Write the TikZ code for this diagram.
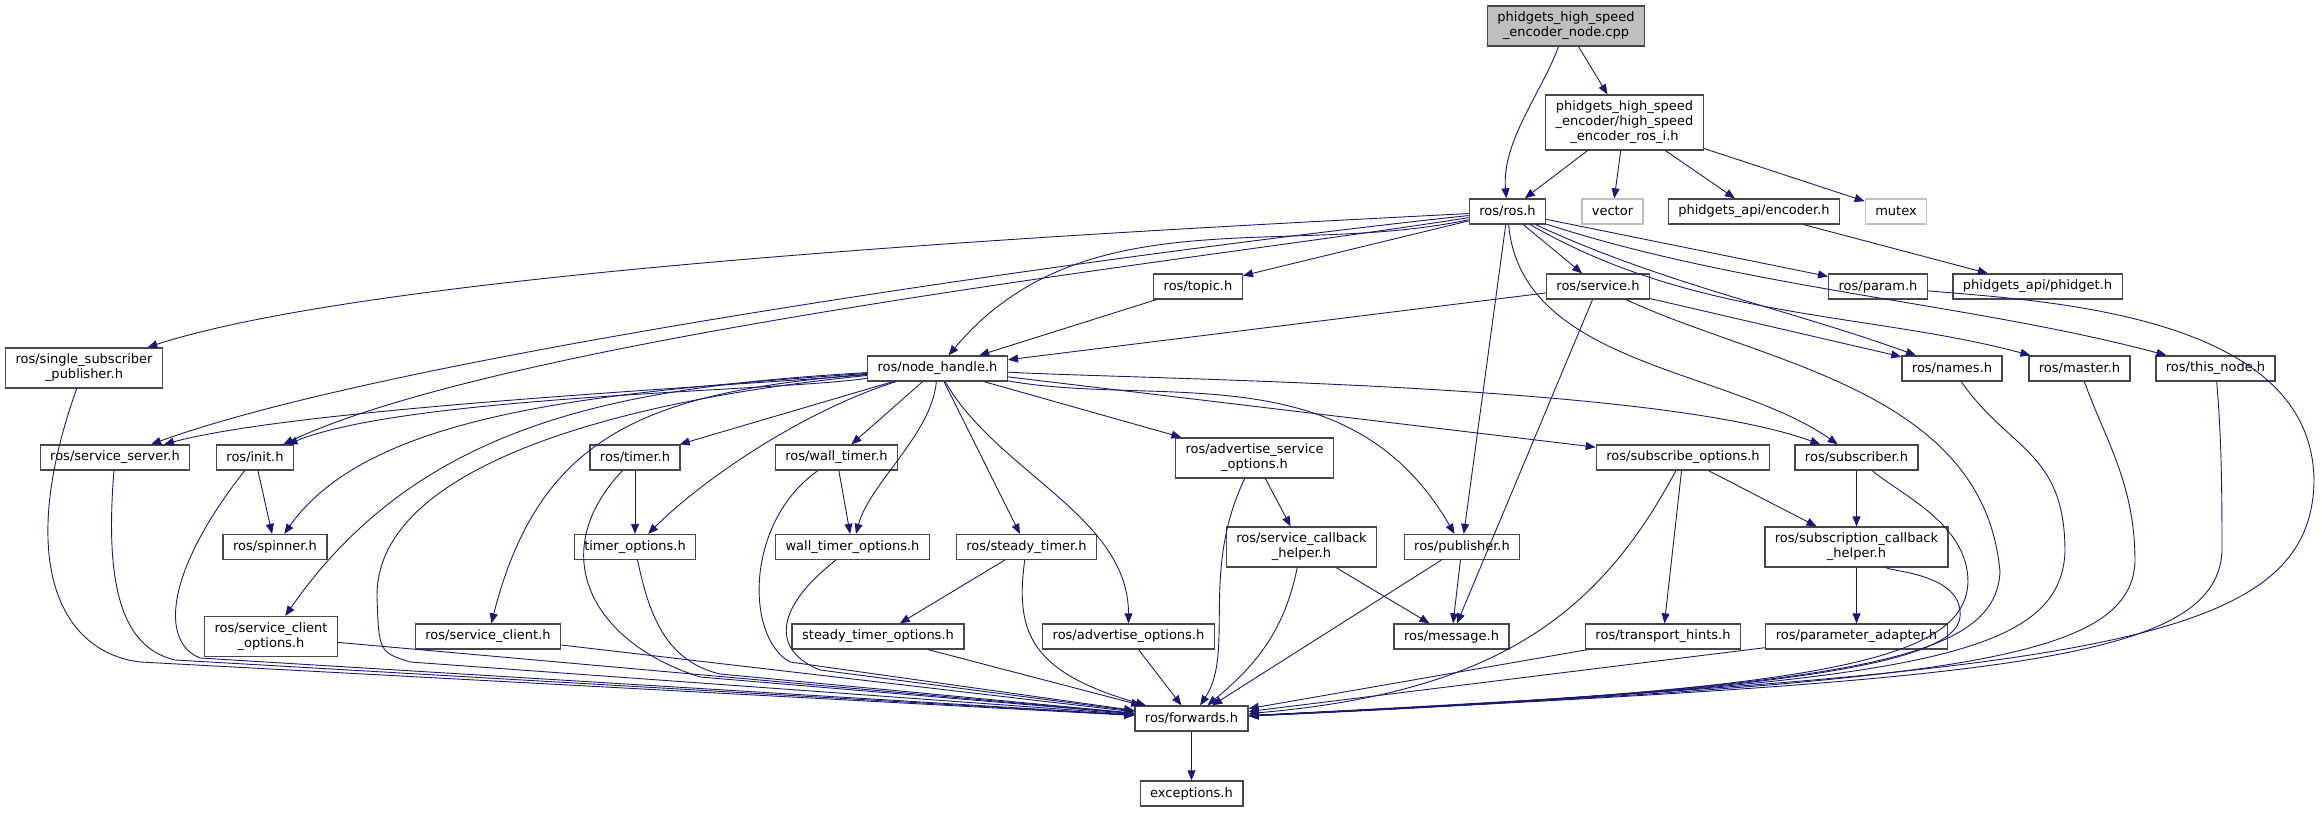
\documentclass[tikz,border=0pt]{standalone}
\usepackage{fontspec}
\setmainfont{DejaVu Sans}
\usetikzlibrary{arrows.meta}
\definecolor{edgeblue}{HTML}{191970}
\newcommand\hfile[4][]{\node(#2)[hdr,#1] at (#3){#4};}

\begin{document}
\begin{tikzpicture}[x=1pt,y=1pt,
    hdr/.style={draw=black!72,line width=1.3pt,fill=white,align=center,inner xsep=10pt,inner ysep=6pt,
        minimum height=25pt,font=\fontsize{13}{15}\selectfont},
    incl/.style={draw=edgeblue,line width=.9pt,-{Triangle[length=10pt,width=8pt]}}]
    \useasboundingbox (0,0) rectangle (2322,812);
    \hfile[fill=gray!50]{main}{1566,786}{phidgets\_high\_speed\\\_encoder\_node.cpp}
    \hfile{rosi}{1624.5,689.5}{phidgets\_high\_speed\\\_encoder/high\_speed\\\_encoder\_ros\_i.h}
    \hfile{ros}{1507.5,600.5}{ros/ros.h}
    \hfile[draw=gray!50]{vector}{1612.5,600.5}{vector}
    \hfile{encoder}{1754,600.5}{phidgets\_api/encoder.h}
    \hfile[draw=gray!50]{mutex}{1896,600.5}{mutex}
    \hfile{topic}{1198,525.5}{ros/topic.h}
    \hfile{service}{1598,525.5}{ros/service.h}
    \hfile{param}{1878,525.5}{ros/param.h}
    \hfile{phidget}{2037.5,525.5}{phidgets\_api/phidget.h}
    \hfile{ssp}{84,444}{ros/single\_subscriber\\\_publisher.h}
    \hfile{nh}{937.5,443.5}{ros/node\_handle.h}
    \hfile{names}{1952,443.5}{ros/names.h}
    \hfile{master}{2079.5,443.5}{ros/master.h}
    \hfile{thisnode}{2215.5,443.5}{ros/this\_node.h}
    \hfile{srvserver}{115,354.5}{ros/service\_server.h}
    \hfile{init}{255,354.5}{ros/init.h}
    \hfile{timer}{635,354.5}{ros/timer.h}
    \hfile{walltimer}{836.5,354.5}{ros/wall\_timer.h}
    \hfile{aso}{1254.5,354}{ros/advertise\_service\\\_options.h}
    \hfile{subopts}{1683,354.5}{ros/subscribe\_options.h}
    \hfile{subscriber}{1856.5,354.5}{ros/subscriber.h}
    \hfile{spinner}{275,265}{ros/spinner.h}
    \hfile{timeropts}{635,265}{timer\_options.h}
    \hfile{wtopts}{852.5,265}{wall\_timer\_options.h}
    \hfile{steady}{1026.5,265}{ros/steady\_timer.h}
    \hfile{sch}{1301.5,265}{ros/service\_callback\\\_helper.h}
    \hfile{publisher}{1462,265}{ros/publisher.h}
    \hfile{subcb}{1856.5,265}{ros/subscription\_callback\\\_helper.h}
    \hfile{sco}{271,175.5}{ros/service\_client\\\_options.h}
    \hfile{sclient}{488,175.5}{ros/service\_client.h}
    \hfile{stopts}{878,175.5}{steady\_timer\_options.h}
    \hfile{advopts}{1128.5,175.5}{ros/advertise\_options.h}
    \hfile{message}{1451.5,175.5}{ros/message.h}
    \hfile{hints}{1663,175.5}{ros/transport\_hints.h}
    \hfile{padapter}{1856.5,175.5}{ros/parameter\_adapter.h}
    \hfile{fwd}{1191.5,93.5}{ros/forwards.h}
    \hfile{exc}{1191.5,18.5}{exceptions.h}

    \foreach \a/\b in {main/rosi,rosi/ros,rosi/vector,rosi/encoder,rosi/mutex,encoder/phidget,
        ros/topic,ros/service,ros/param,ros/publisher,topic/nh,service/nh,service/names,service/message,
        nh/timer,nh/walltimer,nh/steady,nh/aso,nh/subopts,init/spinner,timer/timeropts,walltimer/wtopts,
        steady/stopts,aso/sch,sch/message,publisher/message,subopts/subcb,subopts/hints,subscriber/subcb,
        subcb/padapter,sco/fwd,sclient/fwd,stopts/fwd,advopts/fwd,publisher/fwd,hints/fwd,padapter/fwd,fwd/exc}
        \draw[incl] (\a) -- (\b);

    \draw[incl] (main) .. controls +(-110:70) and +(95:70) .. (ros);
    \draw[incl] (ros) .. controls +(183:330) and +(18:330) .. (ssp);
    \draw[incl] (ros) .. controls +(186:320) and +(20:320) .. (srvserver);
    \draw[incl] (ros) .. controls +(189:290) and +(25:290) .. (init);
    \draw[incl] (ros) .. controls +(192:226) and +(50:226) .. (nh);
    \draw[incl] (ros) .. controls +(-85:155) and +(145:155) .. (subscriber);
    \draw[incl] (ros) .. controls +(-25:170) and +(160:170) .. (names);
    \draw[incl] (ros) .. controls +(-30:218) and +(165:218) .. (master);
    \draw[incl] (ros) .. controls +(-18:250) and +(165:250) .. (thisnode);

    \draw[incl] (nh) .. controls +(185:195) and +(15:195) .. (srvserver);
    \draw[incl] (nh) .. controls +(188:165) and +(22:165) .. (init);
    \draw[incl] (nh) .. controls (600,420) and (370,400) .. (spinner);
    \draw[incl] (nh) .. controls (620,425) and (420,390) .. (sco);
    \draw[incl] (nh) .. controls (650,420) and (540,380) .. (sclient);
    \draw[incl] (nh) .. controls (800,400) and (700,330) .. (timeropts);
    \draw[incl] (nh) .. controls +(-95:66) and +(75:66) .. (wtopts);
    \draw[incl] (nh) .. controls +(-60:120) and +(90:120) .. (advopts);
    \draw[incl] (nh) .. controls +(-10:225) and +(120:225) .. (publisher);
    \draw[incl] (nh) .. controls +(-3:216) and +(160:216) .. (subscriber);

    \draw[incl] (ssp) .. controls (15,250) and (60,160) .. (140,150) -- (fwd);
    \draw[incl] (srvserver) .. controls (105,230) and (120,165) .. (175,152) -- (fwd);
    \draw[incl] (init) .. controls (165,240) and (160,170) .. (200,154) -- (fwd);
    \draw[incl] (nh) .. controls (600,410) and (375,340) .. (377,215) .. controls (379,160) .. (410,150) -- (fwd);
    \draw[incl] (timer) .. controls (545,260) and (590,170) .. (700,135) -- (fwd);
    \draw[incl] (timeropts) .. controls (650,190) and (670,150) .. (720,138) -- (fwd);
    \draw[incl] (walltimer) .. controls (745,290) and (745,175) .. (790,150) -- (fwd);
    \draw[incl] (wtopts) .. controls (770,200) and (775,160) .. (820,142) -- (fwd);
    \draw[incl] (steady) .. controls (1015,180) and (1030,140) .. (fwd);
    \draw[incl] (aso) .. controls (1200,240) and (1235,160) .. (fwd);
    \draw[incl] (sch) .. controls (1285,185) and (1260,150) .. (fwd);
    \draw[incl] (subopts) .. controls (1600,200) and (1500,120) .. (fwd);
    \draw[incl] (subcb) .. controls +(-35:43) and +(85:43) .. (1960,195) .. controls (1955,150) and (1800,120) .. (fwd);
    \draw[incl] (subscriber) .. controls +(-40:58) and +(90:58) .. (1968,230) .. controls (1965,150) and (1820,122) .. (fwd);
    \draw[incl] (service) .. controls +(-25:183) and +(95:183) .. (2000,240) .. controls (1995,150) and (1850,125) .. (fwd);
    \draw[incl] (names) .. controls +(-55:101) and +(90:101) .. (2065,260) .. controls (2060,150) and (1900,128) .. (fwd);
    \draw[incl] (master) .. controls +(-70:78) and +(90:78) .. (2135,250) .. controls (2130,150) and (1950,130) .. (fwd);
    \draw[incl] (thisnode) .. controls +(-85:66) and +(90:66) .. (2222,260) .. controls (2215,150) and (2000,132) .. (fwd);
    \draw[incl] (param) .. controls +(-5:168) and +(90:168) .. (2314,330) .. controls (2310,170) and (2100,140) .. (fwd);
\end{tikzpicture}
\end{document}
